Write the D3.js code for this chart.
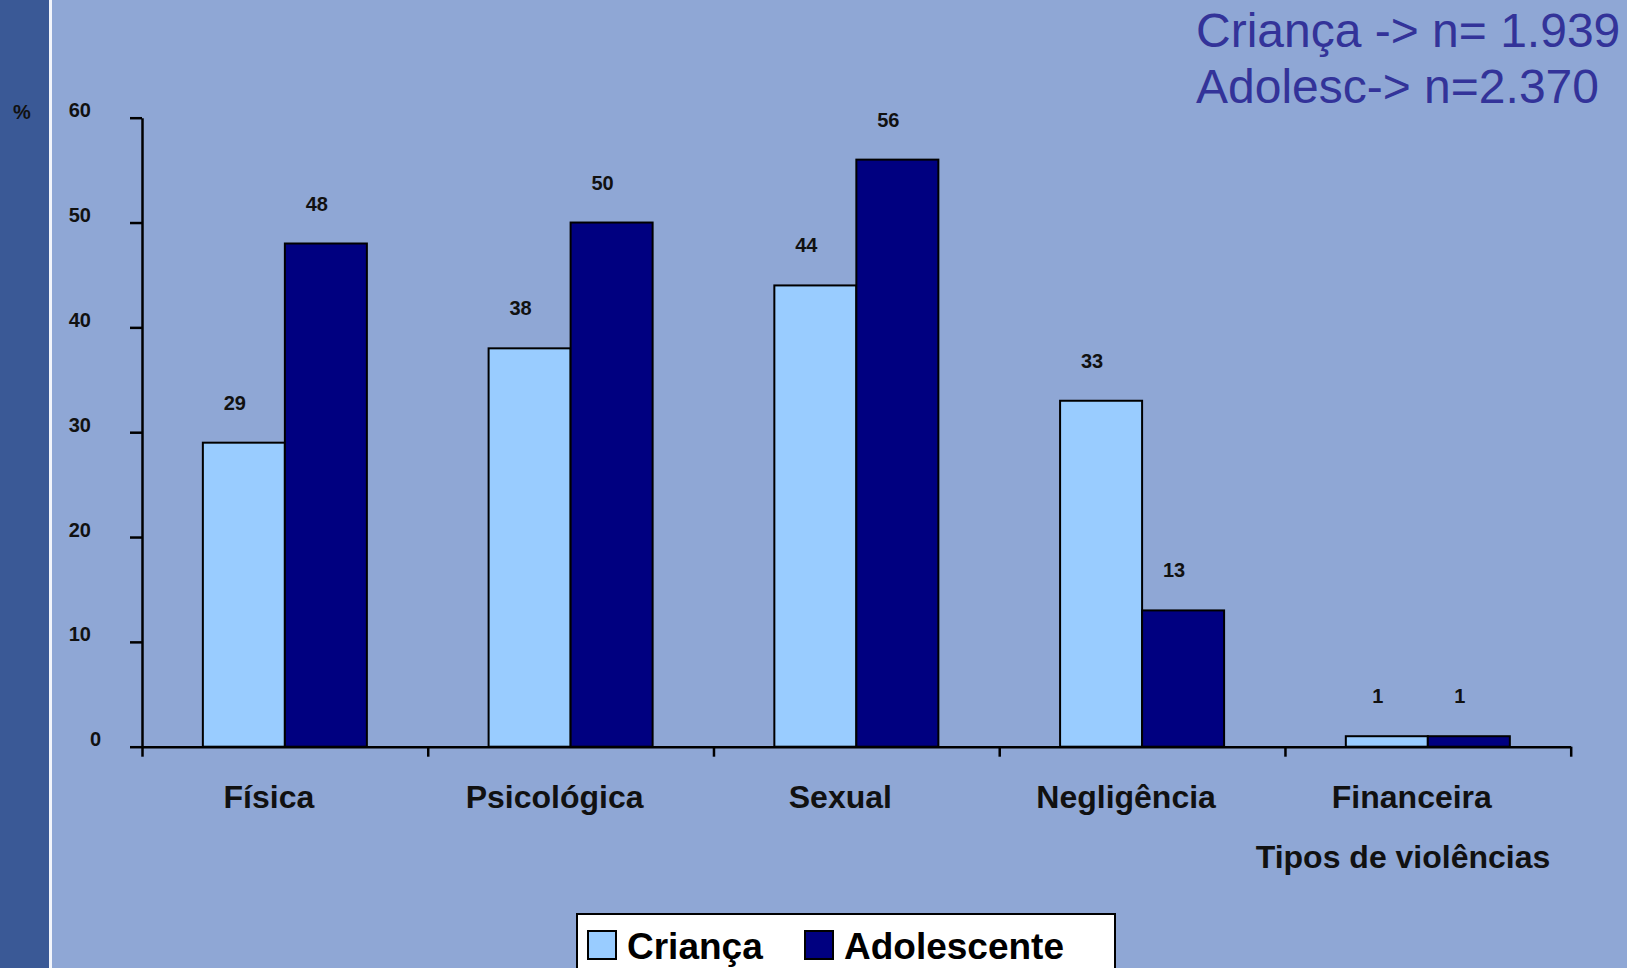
<!DOCTYPE html>
<html>
<head>
<meta charset="utf-8">
<script src="https://cdn.jsdelivr.net/npm/d3@7"></script>
<style>
  body { margin: 0; background: #8fa7d5; }
  svg { display: block; font-family: "Liberation Sans", Arial, sans-serif; }
</style>
</head>
<body>
<svg width="1627" height="968"></svg>
<script>
// data
var categories = ["Física", "Psicológica", "Sexual", "Negligência", "Financeira"];
var seriesNames = ["Criança", "Adolescente"];
var crianca = [29, 38, 44, 33, 1];
var adolescente = [48, 50, 56, 13, 1];
var yTicks = [0, 10, 20, 30, 40, 50, 60];
var noteLines = ["Criança -> n= 1.939", "Adolesc-> n=2.370"];

var svg = d3.select("svg"),
    width = +svg.attr("width"),
    height = +svg.attr("height");

var colors = ["#99ccff", "#000080"];

// background + dark strip on the left
svg.append("rect").attr("width", width).attr("height", height).attr("fill", "#8fa7d5");
svg.append("rect").attr("width", 49).attr("height", height).attr("fill", "#3a5996");
svg.append("rect").attr("x", 49).attr("width", 3).attr("height", height).attr("fill", "#f2f5fb");

var x0 = 142, x1 = 1570.7, yBase = 746.7, yTop = 117.7;

var x = d3.scaleBand()
    .domain(categories)
    .range([x0, x1])
    .paddingInner(0.426)
    .paddingOuter(0.213);

var xs = d3.scaleBand()
    .domain(seriesNames)
    .range([0, x.bandwidth()]);

var xIdx = d3.scaleLinear().domain([0, categories.length]).range([x0, x1]);

var y = d3.scaleLinear().domain([0, 60]).range([yBase, yTop]);

var rows = categories.map(function(c, i) {
  return { cat: c, values: [crianca[i], adolescente[i]] };
});

// bars
var group = svg.selectAll("g.cat")
  .data(rows)
  .enter().append("g")
    .attr("class", "cat")
    .attr("transform", function(d) { return "translate(" + x(d.cat) + ",0)"; });

group.selectAll("rect")
  .data(function(d) { return d.values.map(function(v, j) { return { s: seriesNames[j], v: v, j: j }; }); })
  .enter().append("rect")
    .attr("x", function(d) { return xs(d.s); })
    .attr("y", function(d) { return y(d.v); })
    .attr("width", xs.bandwidth())
    .attr("height", function(d) { return yBase - y(d.v); })
    .attr("fill", function(d) { return colors[d.j]; })
    .attr("stroke", "#000")
    .attr("stroke-width", 2);

group.selectAll("text.val")
  .data(function(d) { return d.values.map(function(v, j) { return { s: seriesNames[j], v: v }; }); })
  .enter().append("text")
    .attr("class", "val")
    .attr("x", function(d) { return xs(d.s) + xs.bandwidth() / 2 - 9; })
    .attr("y", function(d) { return y(d.v) - 33; })
    .attr("text-anchor", "middle")
    .attr("font-size", 20)
    .attr("font-weight", "bold")
    .attr("fill", "#111")
    .text(function(d) { return d.v; });

// y axis
var yAxis = svg.append("g")
    .attr("transform", "translate(" + x0 + ",0)")
    .call(d3.axisLeft(y).tickValues(yTicks).tickSize(12).tickSizeOuter(0).tickPadding(39));
yAxis.select(".domain").attr("stroke-width", 2.5);
yAxis.selectAll(".tick line").attr("stroke-width", 2.5);
yAxis.selectAll(".tick text")
    .attr("font-size", 20)
    .attr("font-weight", "bold")
    .attr("font-family", "Liberation Sans, Arial, sans-serif")
    .attr("fill", "#111")
    .attr("dy", -1)
    .attr("dx", function(d) { return d === 0 ? 10 : 0; });

// x axis
var xAxis = svg.append("g")
    .attr("transform", "translate(0," + yBase + ")")
    .call(d3.axisBottom(xIdx).tickValues(d3.range(categories.length + 1)).tickSize(10).tickSizeOuter(0).tickFormat(""));
xAxis.select(".domain").attr("stroke-width", 2.5);
xAxis.selectAll(".tick line").attr("stroke-width", 2.5);

svg.selectAll("text.cat")
  .data(categories)
  .enter().append("text")
    .attr("class", "cat")
    .attr("x", function(d) { return x(d) + x.bandwidth() / 2 - 16; })
    .attr("y", 808)
    .attr("text-anchor", "middle")
    .attr("font-size", 32)
    .attr("font-weight", "bold")
    .attr("fill", "#111")
    .text(function(d) { return d; });

svg.append("text")
    .attr("x", 1403)
    .attr("y", 868)
    .attr("text-anchor", "middle")
    .attr("font-size", 32)
    .attr("font-weight", "bold")
    .attr("fill", "#111")
    .text("Tipos de violências");

svg.append("text")
    .attr("x", 22)
    .attr("y", 119)
    .attr("text-anchor", "middle")
    .attr("font-size", 20)
    .attr("font-weight", "bold")
    .attr("fill", "#111")
    .text("%");

// n note, top right
svg.selectAll("text.note")
  .data(noteLines)
  .enter().append("text")
    .attr("class", "note")
    .attr("x", 1196)
    .attr("y", function(d, i) { return 46.7 + i * 56.7; })
    .attr("font-size", 48)
    .attr("fill", "#333399")
    .text(function(d) { return d; });

// legend
var legend = svg.append("g").attr("transform", "translate(577,914)");
legend.append("rect")
    .attr("width", 538)
    .attr("height", 90)
    .attr("fill", "#fff")
    .attr("stroke", "#000")
    .attr("stroke-width", 2);

var legendX = [11, 228];
var item = legend.selectAll("g.item")
  .data(seriesNames)
  .enter().append("g")
    .attr("class", "item")
    .attr("transform", function(d, i) { return "translate(" + legendX[i] + ",0)"; });

item.append("rect")
    .attr("y", 17)
    .attr("width", 28)
    .attr("height", 28)
    .attr("fill", function(d, i) { return colors[i]; })
    .attr("stroke", "#000")
    .attr("stroke-width", 2);

item.append("text")
    .attr("x", 39)
    .attr("y", 45)
    .attr("font-size", 37)
    .attr("font-weight", "bold")
    .attr("fill", "#000")
    .text(function(d) { return d; });
</script>
</body>
</html>
